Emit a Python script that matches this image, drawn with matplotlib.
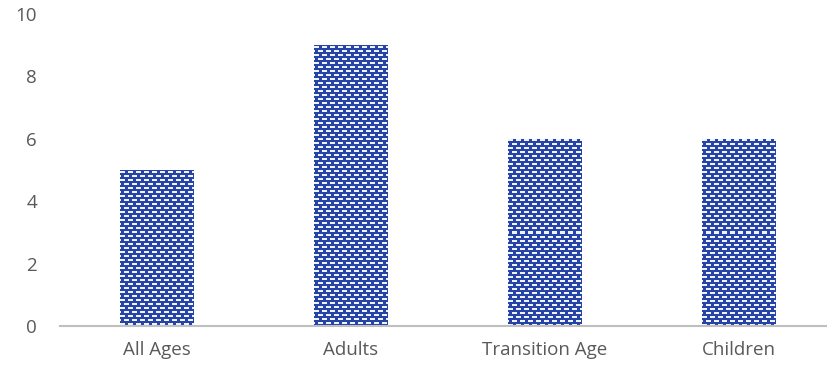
import numpy as np
import matplotlib
matplotlib.use("Agg")
import matplotlib.pyplot as plt

categories = ["All Ages", "Adults", "Transition Age", "Children"]
values = [5, 9, 6, 6]
yticks = [0, 2, 4, 6, 8, 10]

W, H, DPI = 828, 372, 100
fig = plt.figure(figsize=(W / DPI, H / DPI), dpi=DPI)
left, right = 60, 836
bottom, top = 326, 14
ax = fig.add_axes([left / W, (H - bottom) / H, (right - left) / W, (bottom - top) / H])

x = np.arange(len(categories))
bars = ax.bar(x, values, width=0.38, color="#2B4BA8", linewidth=0, zorder=2)

ax.set_xlim(-0.5, 3.5)
ax.set_ylim(0, 10)

# brick-like dashed texture inside each bar
px_per_unit_x = (right - left) / 4.0
px_per_unit_y = (bottom - top) / 10.0
blue = np.array([38, 68, 165]) / 255.0
white = np.array([240, 243, 252]) / 255.0
for b in bars:
    x0, w, h = b.get_x(), b.get_width(), b.get_height()
    wp = int(round(w * px_per_unit_x))
    hp = int(round(h * px_per_unit_y))
    img = np.tile(blue, (hp, wp, 1))
    for r in range(hp):
        if r % 4 in (1, 2):
            off = 0 if (r // 4) % 2 == 0 else 4
            for c in range(wp):
                if (c + off) % 8 < 5:
                    img[r, c] = white
    im = ax.imshow(img, extent=(x0, x0 + w, 0, h), origin="upper",
                   interpolation="nearest", aspect="auto", zorder=3)
    im.set_clip_path(b)

ax.set_xlim(-0.5, 3.5)
ax.set_ylim(0, 10)
ax.set_xticks(x)
ax.set_xticklabels(categories)
ax.set_yticks(yticks)

for s in ["top", "right", "left"]:
    ax.spines[s].set_visible(False)
ax.spines["bottom"].set_color("#BFBFBF")
ax.spines["bottom"].set_linewidth(1.5)
ax.spines["bottom"].set_zorder(4)
ax.tick_params(axis="both", length=0, labelsize=13.5, labelcolor="#595959")
ax.tick_params(axis="y", pad=16.5)
ax.tick_params(axis="x", pad=11)
for lab in ax.get_xticklabels() + ax.get_yticklabels():
    lab.set_family("Open Sans")

fig.savefig("out.png", dpi=DPI)
